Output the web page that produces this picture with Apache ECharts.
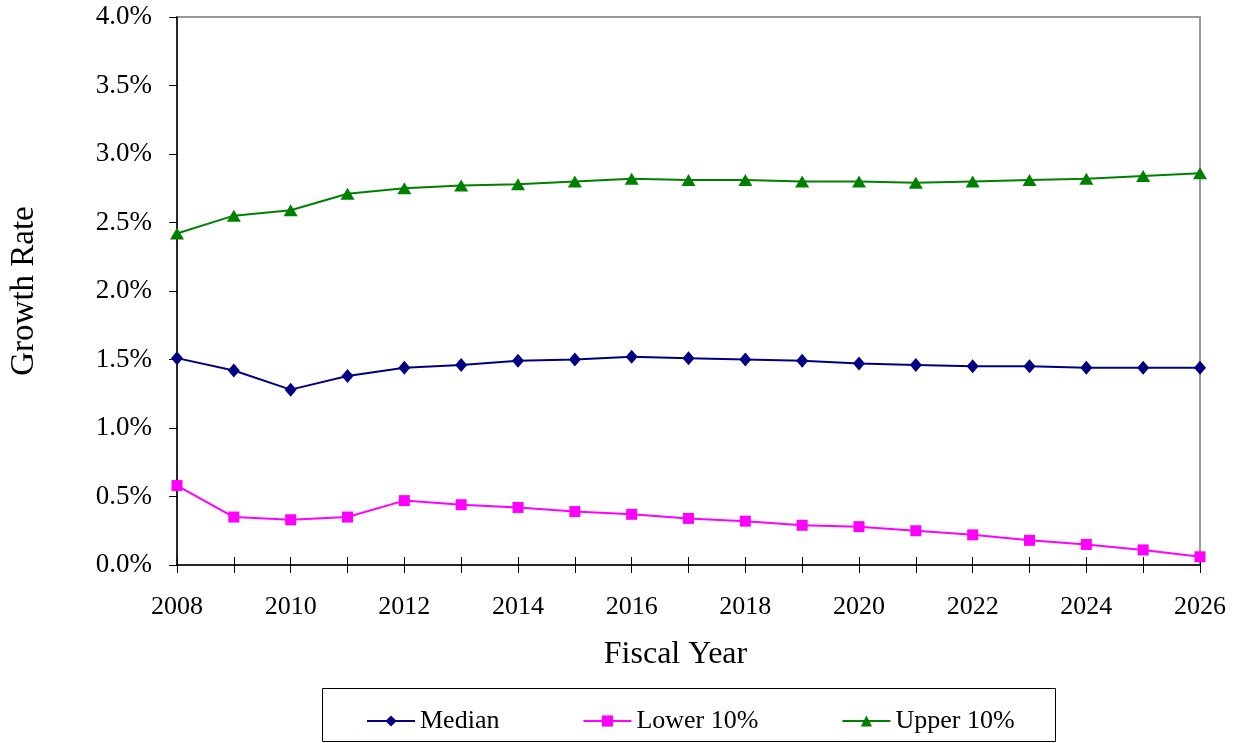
<!DOCTYPE html>
<html>
<head>
<meta charset="utf-8">
<title>Growth Rate</title>
<script src="https://cdn.jsdelivr.net/npm/echarts@6/dist/echarts.min.js"></script>
<style>
  html, body { margin: 0; padding: 0; background: #fff; }
  #chart { width: 1245px; height: 743px; }
</style>
</head>
<body>
<div id="chart"></div>
<script>
// fiscal years
var years = ['2008','2009','2010','2011','2012','2013','2014','2015','2016','2017',
             '2018','2019','2020','2021','2022','2023','2024','2025','2026'];
// growth rates in percent
var median = [1.51, 1.42, 1.28, 1.38, 1.44, 1.46, 1.49, 1.50, 1.52, 1.51,
              1.50, 1.49, 1.47, 1.46, 1.45, 1.45, 1.44, 1.44, 1.44];
var lower10 = [0.58, 0.35, 0.33, 0.35, 0.47, 0.44, 0.42, 0.39, 0.37, 0.34,
               0.32, 0.29, 0.28, 0.25, 0.22, 0.18, 0.15, 0.11, 0.06];
var upper10 = [2.42, 2.55, 2.59, 2.71, 2.75, 2.77, 2.78, 2.80, 2.82, 2.81,
               2.81, 2.80, 2.80, 2.79, 2.80, 2.81, 2.82, 2.84, 2.86];

var font = '"Liberation Serif", "Times New Roman", serif';
var chart = echarts.init(document.getElementById('chart'));

chart.setOption({
    animation: false,
    textStyle: { fontFamily: font, color: '#000' },
    grid: {
        left: 175, right: 45, top: 17, bottom: 178,
        show: true, borderColor: '#999', borderWidth: 2
    },
    legend: {
        left: 361, top: 703,
        itemWidth: 48, itemHeight: 14, itemGap: 83,
        textStyle: { fontFamily: font, fontSize: 26, color: '#000' },
        data: ['Median', 'Lower 10%', 'Upper 10%']
    },
    graphic: [{
        type: 'rect',
        shape: { x: 322.5, y: 688.5, width: 733, height: 53 },
        style: { fill: 'none', stroke: '#000', lineWidth: 1 }
    }],
    xAxis: [{
        type: 'category',
        data: years,
        boundaryGap: false,
        name: 'Fiscal Year',
        nameLocation: 'middle',
        nameGap: 74,
        nameTextStyle: { fontFamily: font, fontSize: 32, color: '#000', padding: [0, 26, 0, 0] },
        axisLine: { lineStyle: { color: '#000', width: 1.5 } },
        axisTick: { interval: 0, length: 8, lineStyle: { color: '#000' } },
        axisLabel: { interval: 1, margin: 29, fontFamily: font, fontSize: 26, color: '#000' },
        splitLine: { show: false }
    }, {
        type: 'category',
        data: years,
        boundaryGap: false,
        position: 'bottom',
        axisLine: { show: false },
        axisTick: { interval: 0, inside: true, length: 8, lineStyle: { color: '#000' } },
        axisLabel: { show: false },
        splitLine: { show: false }
    }],
    yAxis: {
        type: 'value',
        min: 0, max: 4, interval: 0.5,
        name: 'Growth Rate',
        nameLocation: 'middle',
        nameGap: 136,
        nameTextStyle: { fontFamily: font, fontSize: 33, color: '#000' },
        axisLine: { show: true, lineStyle: { color: '#000', width: 1.5 } },
        axisTick: { show: true, length: 8, lineStyle: { color: '#000' } },
        axisLabel: {
            margin: 25, fontFamily: font, fontSize: 27, color: '#000',
            formatter: function (v) { return v.toFixed(1) + '%'; }
        },
        splitLine: { show: false }
    },
    series: [
        {
            name: 'Median', type: 'line', data: median,
            symbol: 'diamond', symbolSize: [12, 14],
            itemStyle: { color: '#000080' },
            lineStyle: { color: '#000080', width: 2 }
        },
        {
            name: 'Lower 10%', type: 'line', data: lower10,
            symbol: 'rect', symbolSize: 11,
            itemStyle: { color: '#FF00FF' },
            lineStyle: { color: '#FF00FF', width: 2 }
        },
        {
            name: 'Upper 10%', type: 'line', data: upper10,
            symbol: 'triangle', symbolSize: [14, 12],
            itemStyle: { color: '#008000' },
            lineStyle: { color: '#008000', width: 2 }
        }
    ]
});
</script>
</body>
</html>
